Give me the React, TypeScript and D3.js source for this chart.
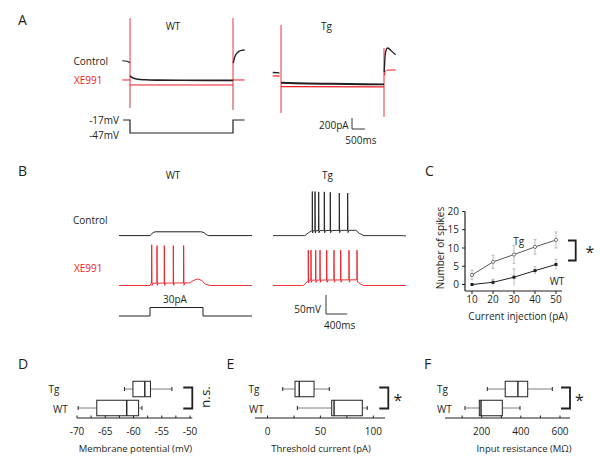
import React from 'react';
import * as d3 from 'd3';

type P = [number, number];

const RED = '#ec1c24';
const INK = '#231f20';
const GREY = '#6d6e71';
const FONT = '"Open Sans", Lato, "DejaVu Sans", sans-serif';

// ---------- Panel A: voltage-clamp currents, [time (ms), current (pA)]
const aWtCtrlPre: P[] = [[-300, 5], [-120, -5], [0, -30]];
const aWtCtrlStep: P[] = [[0, -270], [60, -292], [150, -315], [300, -332], [600, -342], [1000, -347], [2000, -350], [4000, -352]];
const aWtCtrlPost: P[] = [[4010, -40], [4060, 60], [4130, 130], [4230, 175], [4330, 195], [4450, 200]];
const aWtXePre: P[] = [[-300, -345], [0, -345]];
const aWtXeStep: P[] = [[0, -436], [4000, -436]];
const aWtXePost: P[] = [[4000, -345], [4450, -345]];
const aWtTransients: [number, number, number][] = [[0, 782, -855], [4000, 782, -890]];

const aTgCtrlPre: P[] = [[-320, -210], [-60, -216]];
const aTgCtrlStep: P[] = [[0, -395], [600, -405], [2000, -415], [4000, -425]];
const aTgCtrlPost: P[] = [[4010, -200], [4040, 80], [4090, 210], [4140, 236], [4300, 175], [4450, 115]];
const aTgXePre: P[] = [[-320, -270], [-60, -276]];
const aTgXeStep: P[] = [[0, -466], [4000, -470]];
const aTgXePost: P[] = [[4015, -260], [4050, -190], [4150, -165], [4450, -162]];
const aTgTransients: [number, number, number][] = [[0, 655, -945], [4000, 236, -1018]];

const aCommand: P[] = [[-270, -17], [0, -17], [0, -47], [4000, -47], [4000, -17], [4450, -17]];

// ---------- Panel B: current-clamp voltage, [time (ms), Vm (mV)]
const bWtCtrl: P[] = [[-585, -70], [0, -70], [40, -64], [110, -60], [950, -60], [1000, -61], [1060, -67], [1100, -70], [1925, -70]];
const bWtXeBase: P[] = [[-585, -70], [0, -70], [25, -64], [750, -63], [830, -56], [905, -53], [980, -57], [1040, -66], [1130, -70], [1925, -70]];
const bWtXeSpikes = [32, 132, 270, 440, 635];
const bWtXePeaks = [37, 35, 35, 35, 35];

const bTgCtrlBase: P[] = [[-585, -70], [15, -70], [80, -63], [150, -57], [980, -56], [1040, -64], [1130, -70], [1850, -70], [1925, -71]];
const bTgCtrlSpikes = [157, 208, 277, 383, 496, 666, 824];
const bTgCtrlPeaks = [46, 46, 45, 45, 44, 42, 42];

const bTgXeBase: P[] = [[-585, -70], [-15, -70], [40, -63], [85, -56], [1000, -55], [1040, -64], [1120, -70], [1925, -70]];
const bTgXeSpikes = [81, 132, 221, 302, 428, 566, 692, 849, 1000];
const bTgXePeaks = [23, 23, 23, 23, 23, 23, 23, 23, 23];

const bStep: P[] = [[-585, 0], [0, 0], [0, 30], [1000, 30], [1000, 0], [1925, 0]];

// ---------- Panel C
const cCurrents = [10, 20, 30, 40, 50];
const cTgMean = [2.6, 6.2, 8.2, 10.3, 12.2];
const cTgErr = [1.3, 1.8, 2.4, 2.0, 2.2];
const cWtMean = [0, 0.6, 2.0, 3.8, 5.5];
const cWtErr = [0.2, 0.8, 2.3, 1.1, 1.4];
const cYTicks = [0, 5, 10, 15, 20];

// ---------- Panels D-F: [min, q1, median, q3, max]
const dTg = [-61.6, -60.1, -58.0, -57.0, -53.2];
const dWt = [-69.8, -66.5, -61.2, -59.1, -58.5];
const dTicks = [-70, -65, -60, -55, -50];
const eTg = [14.4, 26, 30, 44, 58.4];
const eWt = [28.2, 60.7, 62.9, 89.6, 94.3];
const eTicks = [0, 50, 100];
const fTg = [228.6, 320, 385, 435, 560.7];
const fWt = [114.7, 187.8, 196.5, 305.3, 395.7];
const fTicks = [200, 400, 600];

function interpAt(base: P[], t: number): number {
  for (let i = 0; i < base.length - 1; i++) {
    const [t0, v0] = base[i];
    const [t1, v1] = base[i + 1];
    if (t >= t0 && t <= t1) return t1 === t0 ? v1 : v0 + ((v1 - v0) * (t - t0)) / (t1 - t0);
  }
  return base[base.length - 1][1];
}

function spikeTrace(base: P[], spikes: number[], peaks: number[]): P[] {
  const pts: P[] = [];
  const windows = spikes.map((t) => [t - 3, t + 22]);
  base.forEach((p) => {
    if (!windows.some(([a, b]) => p[0] > a && p[0] < b)) pts.push([p[0], p[1]]);
  });
  spikes.forEach((t, i) => {
    const v = interpAt(base, t);
    pts.push([t - 3, interpAt(base, t - 3)], [t, peaks[i]], [t + 6, v - 6], [t + 22, interpAt(base, t + 22)]);
  });
  pts.sort((a, b) => a[0] - b[0]);
  return pts;
}

function path(data: P[], x: d3.ScaleLinear<number, number>, y: d3.ScaleLinear<number, number>) {
  return d3.line<P>().x((d) => x(d[0])).y((d) => y(d[1]))(data) || '';
}

function curve(data: P[], x: d3.ScaleLinear<number, number>, y: d3.ScaleLinear<number, number>) {
  return d3.line<P>().x((d) => x(d[0])).y((d) => y(d[1])).curve(d3.curveMonotoneX)(data) || '';
}

function Box({ vals, scale, cy }: { vals: number[]; scale: d3.ScaleLinear<number, number>; cy: number }) {
  const [mn, q1, md, q3, mx] = vals.map((v) => scale(v));
  const h = 15.5;
  return (
    <g fill="none">
      <line x1={mn} x2={q1} y1={cy} y2={cy} stroke={GREY} strokeWidth={0.9} />
      <line x1={q3} x2={mx} y1={cy} y2={cy} stroke={GREY} strokeWidth={0.9} />
      <line x1={mn} x2={mn} y1={cy - 2} y2={cy + 2} stroke={INK} strokeWidth={1} />
      <line x1={mx} x2={mx} y1={cy - 2} y2={cy + 2} stroke={INK} strokeWidth={1} />
      <rect x={q1} y={cy - h / 2} width={q3 - q1} height={h} fill="#fff" stroke={INK} strokeWidth={1} />
      <line x1={md} x2={md} y1={cy - h / 2} y2={cy + h / 2} stroke={INK} strokeWidth={1.4} />
    </g>
  );
}

function BoxPanel({
  scale, tg, wt, ticks, minor, axisFrom, axisTo, labelX, title, titleX, bracketX, sig, sigX,
}: {
  scale: d3.ScaleLinear<number, number>; tg: number[]; wt: number[]; ticks: number[]; minor: number[];
  axisFrom: number; axisTo: number; labelX: [number, number]; title: string; titleX: number; bracketX: number;
  sig: 'ns' | 'star'; sigX: number;
}) {
  const axisY = 418;
  return (
    <g>
      <text x={labelX[0]} y={393} fontSize={10} fill={INK}>Tg</text>
      <text x={labelX[1]} y={412.5} fontSize={10} fill={INK}>WT</text>
      <Box vals={tg} scale={scale} cy={389} />
      <Box vals={wt} scale={scale} cy={408} />
      <line x1={axisFrom} x2={axisTo} y1={axisY} y2={axisY} stroke={INK} strokeWidth={1.2} />
      {minor.map((t) => (
        <line key={'m' + t} x1={scale(t)} x2={scale(t)} y1={axisY} y2={axisY - 2.5} stroke={INK} strokeWidth={1} />
      ))}
      {ticks.map((t) => (
        <text key={t} x={scale(t)} y={435} fontSize={10} textAnchor="middle" fill={INK}>{t}</text>
      ))}
      <text x={titleX} y={452} fontSize={9.5} textAnchor="middle" fill={INK}>{title}</text>
      <path d={`M${bracketX - 9},387.5H${bracketX}V408.5H${bracketX - 9}`} fill="none" stroke={INK} strokeWidth={1.8} />
      {sig === 'ns' ? (
        <text transform={`translate(${sigX},397) rotate(-90)`} fontSize={13.5} textAnchor="middle" dominantBaseline="central" fill={INK}>n.s.</text>
      ) : (
        <text x={sigX} y={406} fontSize={16} textAnchor="middle" fill={INK}>*</text>
      )}
    </g>
  );
}

export default function App() {
  // Panel A scales
  const xAwt = d3.scaleLinear().domain([0, 4000]).range([130, 233]);
  const xAtg = d3.scaleLinear().domain([0, 4000]).range([281, 384]);
  const yA = d3.scaleLinear().domain([0, -400]).range([61, 83]);
  const yCmd = d3.scaleLinear().domain([-17, -47]).range([120, 133]);

  // Panel B scales
  const xBwt = d3.scaleLinear().domain([0, 1000]).range([150, 203]);
  const xBtg = d3.scaleLinear().domain([0, 1000]).range([304, 357]);
  const yBctrl = d3.scaleLinear().domain([-70, 30]).range([235.6, 197.6]);
  const yBxe = d3.scaleLinear().domain([-70, 30]).range([285.5, 247.5]);
  const yStep = d3.scaleLinear().domain([0, 30]).range([316, 307.5]);

  // Panel C scales
  const xC = d3.scaleLinear().domain([10, 50]).range([472, 556]);
  const yC = d3.scaleLinear().domain([0, 20]).range([284.5, 211.5]);

  // Panels D-F scales
  const xD = d3.scaleLinear().domain([-70, -50]).range([77, 190]);
  const xE = d3.scaleLinear().domain([0, 100]).range([267.5, 373.3]);
  const xF = d3.scaleLinear().domain([200, 600]).range([481.7, 560]);

  const bar200 = yA(-200) - yA(0);
  const bar500 = xAwt(500) - xAwt(0);
  const bar50 = yBctrl(-70) - yBctrl(-20);
  const bar400 = xBwt(400) - xBwt(0);

  const tgLine = d3.line<number>().x((_, i) => xC(cCurrents[i])).y((d) => yC(d));

  return (
    <svg width={600} height={467} style={{ position: 'absolute', left: 0, top: 0, background: '#fff' }} fontFamily={FONT}>
      <rect width={600} height={467} fill="#fff" />

      {/* ================= Panel A ================= */}
      <text x={18} y={25} fontSize={14} fill={INK}>A</text>
      <text x={173} y={30} fontSize={10} textAnchor="middle" fill={INK}>WT</text>
      <text x={326.5} y={30} fontSize={10} textAnchor="middle" fill={INK}>Tg</text>
      <text x={73.5} y={64.5} fontSize={10} fill={INK}>Control</text>
      <text x={74} y={83.5} fontSize={10} fill={RED}>XE991</text>

      {/* WT */}
      {aWtTransients.map(([t, top, bot], i) => (
        <g key={'wtt' + i}>
          <line x1={xAwt(t)} x2={xAwt(t)} y1={yA(top)} y2={yA(bot)} stroke={RED} strokeWidth={0.9} />
          <line x1={xAwt(t)} x2={xAwt(t)} y1={yA(-480)} y2={yA(bot)} stroke="#b9a7a7" strokeWidth={0.9} />
        </g>
      ))}
      <path d={curve(aWtXePre, xAwt, yA)} fill="none" stroke={RED} strokeWidth={1} />
      <path d={curve(aWtXeStep, xAwt, yA)} fill="none" stroke={RED} strokeWidth={1} />
      <path d={curve(aWtXePost, xAwt, yA)} fill="none" stroke={RED} strokeWidth={1} />
      <path d={curve(aWtCtrlPre, xAwt, yA)} fill="none" stroke={INK} strokeWidth={1.2} />
      <path d={curve(aWtCtrlStep, xAwt, yA)} fill="none" stroke={INK} strokeWidth={1.6} />
      <path d={curve(aWtCtrlPost, xAwt, yA)} fill="none" stroke={INK} strokeWidth={1.3} />

      {/* Tg */}
      {aTgTransients.map(([t, top, bot], i) => (
        <line key={'tgt' + i} x1={xAtg(t)} x2={xAtg(t)} y1={yA(top)} y2={yA(bot)} stroke={RED} strokeWidth={0.9} />
      ))}
      <path d={curve(aTgXePre, xAtg, yA)} fill="none" stroke={RED} strokeWidth={1.2} />
      <path d={curve(aTgXeStep, xAtg, yA)} fill="none" stroke={RED} strokeWidth={1.4} />
      <path d={curve(aTgXePost, xAtg, yA)} fill="none" stroke={RED} strokeWidth={1} />
      <path d={curve(aTgCtrlPre, xAtg, yA)} fill="none" stroke={INK} strokeWidth={1.4} />
      <path d={curve(aTgCtrlStep, xAtg, yA)} fill="none" stroke={INK} strokeWidth={2} />
      <path d={curve(aTgCtrlPost, xAtg, yA)} fill="none" stroke={INK} strokeWidth={1.3} />

      {/* command */}
      <path d={path(aCommand, xAwt, yCmd)} fill="none" stroke={INK} strokeWidth={1.2} />
      <text x={119} y={124} fontSize={10} textAnchor="end" fill={INK}>-17mV</text>
      <text x={119} y={138.5} fontSize={10} textAnchor="end" fill={INK}>-47mV</text>

      {/* scale bar A */}
      <path d={`M352,118V${118 + bar200}H${352 + bar500}`} fill="none" stroke={INK} strokeWidth={0.9} />
      <text x={319} y={128.5} fontSize={10} fill={INK}>200pA</text>
      <text x={345.3} y={144} fontSize={10} fill={INK}>500ms</text>

      {/* ================= Panel B ================= */}
      <text x={18} y={175.5} fontSize={14} fill={INK}>B</text>
      <text x={173} y={178.5} fontSize={10} textAnchor="middle" fill={INK}>WT</text>
      <text x={327.5} y={178.5} fontSize={10} textAnchor="middle" fill={INK}>Tg</text>
      <text x={73} y={223.5} fontSize={10} fill={INK}>Control</text>
      <text x={74} y={271.5} fontSize={10} fill={RED}>XE991</text>

      <path d={curve(bWtCtrl, xBwt, yBctrl)} fill="none" stroke={INK} strokeWidth={1} />
      <path d={path(spikeTrace(bWtXeBase, bWtXeSpikes, bWtXePeaks), xBwt, yBxe)} fill="none" stroke={RED} strokeWidth={0.9} strokeLinejoin="round" />
      <path d={path(spikeTrace(bTgCtrlBase, bTgCtrlSpikes, bTgCtrlPeaks), xBtg, yBctrl)} fill="none" stroke={INK} strokeWidth={0.9} strokeLinejoin="round" />
      <path d={path(spikeTrace(bTgXeBase, bTgXeSpikes, bTgXePeaks), xBtg, yBxe)} fill="none" stroke={RED} strokeWidth={0.9} strokeLinejoin="round" />

      <path d={path(bStep, xBwt, yStep)} fill="none" stroke={INK} strokeWidth={1} />
      <text x={175} y={302.5} fontSize={10} textAnchor="middle" fill={INK}>30pA</text>

      <path d={`M326,${314 - bar50}V314H${326 + bar400}`} fill="none" stroke={INK} strokeWidth={0.9} />
      <text x={321} y={313} fontSize={10} textAnchor="end" fill={INK}>50mV</text>
      <text x={324} y={328.5} fontSize={10} fill={INK}>400ms</text>

      {/* ================= Panel C ================= */}
      <text x={425} y={175.5} fontSize={14} fill={INK}>C</text>
      <line x1={465} x2={465} y1={yC(20)} y2={291} stroke={INK} strokeWidth={1.2} />
      <line x1={465} x2={562} y1={291} y2={291} stroke={INK} strokeWidth={1.2} />
      {cYTicks.map((t) => (
        <g key={'cy' + t}>
          <line x1={462} x2={465} y1={yC(t)} y2={yC(t)} stroke={INK} strokeWidth={1} />
          <text x={459} y={yC(t) + 3.5} fontSize={10} textAnchor="end" fill={INK}>{t}</text>
        </g>
      ))}
      {cCurrents.map((t) => (
        <g key={'cx' + t}>
          <line x1={xC(t)} x2={xC(t)} y1={291} y2={294} stroke={INK} strokeWidth={1} />
          <text x={xC(t)} y={303} fontSize={10} textAnchor="middle" fill={INK}>{t}</text>
        </g>
      ))}
      <text transform="translate(444,248) rotate(-90)" fontSize={10} textAnchor="middle" fill={INK}>Number of spikes</text>
      <text x={518} y={320} fontSize={10} textAnchor="middle" fill={INK}>Current injection (pA)</text>

      {cCurrents.map((c, i) => (
        <g key={'ce' + c} stroke="#a7a9ac" strokeWidth={0.8}>
          <line x1={xC(c)} x2={xC(c)} y1={yC(cTgMean[i] + cTgErr[i])} y2={yC(cTgMean[i] - cTgErr[i])} />
          <line x1={xC(c) - 1.5} x2={xC(c) + 1.5} y1={yC(cTgMean[i] + cTgErr[i])} y2={yC(cTgMean[i] + cTgErr[i])} />
          <line x1={xC(c) - 1.5} x2={xC(c) + 1.5} y1={yC(cTgMean[i] - cTgErr[i])} y2={yC(cTgMean[i] - cTgErr[i])} />
          <line x1={xC(c)} x2={xC(c)} y1={yC(cWtMean[i] + cWtErr[i])} y2={yC(Math.max(cWtMean[i] - cWtErr[i], -0.3))} />
          <line x1={xC(c) - 1.5} x2={xC(c) + 1.5} y1={yC(cWtMean[i] + cWtErr[i])} y2={yC(cWtMean[i] + cWtErr[i])} />
        </g>
      ))}
      <path d={tgLine(cTgMean) || ''} fill="none" stroke="#58595b" strokeWidth={1} />
      <path d={tgLine(cWtMean) || ''} fill="none" stroke={INK} strokeWidth={1} />
      {cCurrents.map((c, i) => (
        <g key={'cp' + c}>
          <circle cx={xC(c)} cy={yC(cTgMean[i])} r={1.6} fill="#fff" stroke="#58595b" strokeWidth={0.8} />
          <rect x={xC(c) - 1.5} y={yC(cWtMean[i]) - 1.5} width={3} height={3} fill={INK} />
        </g>
      ))}
      <text x={518.7} y={244.5} fontSize={10} textAnchor="middle" fill={INK}>Tg</text>
      <text x={557} y={284.5} fontSize={10} textAnchor="middle" fill={INK}>WT</text>
      <path d="M568,240.5H575.7V260.5H568" fill="none" stroke={INK} strokeWidth={1.8} />
      <text x={590} y={258} fontSize={16} textAnchor="middle" fill={INK}>*</text>

      {/* ================= Panels D, E, F ================= */}
      <text x={18} y={368.5} fontSize={14} fill={INK}>D</text>
      <text x={226.5} y={368.5} fontSize={14} fill={INK}>E</text>
      <text x={424} y={368.5} fontSize={14} fill={INK}>F</text>

      <BoxPanel scale={xD} tg={dTg} wt={dWt} ticks={dTicks} minor={d3.range(-70, -49, 2.5)}
        axisFrom={77} axisTo={192.3} labelX={[48.5, 53]} title="Membrane potential (mV)" titleX={135.5}
        bracketX={192.3} sig="ns" sigX={205} />
      <BoxPanel scale={xE} tg={eTg} wt={eWt} ticks={eTicks} minor={d3.range(0, 101, 25)}
        axisFrom={255} axisTo={385} labelX={[248.5, 249]} title="Threshold current (pA)" titleX={321}
        bracketX={388.3} sig="star" sigX={398} />
      <BoxPanel scale={xF} tg={fTg} wt={fWt} ticks={fTicks} minor={d3.range(100, 601, 100)}
        axisFrom={445} axisTo={570} labelX={[437, 437]} title="Input resistance (MΩ)" titleX={524}
        bracketX={570} sig="star" sigX={579.5} />
    </svg>
  );
}
